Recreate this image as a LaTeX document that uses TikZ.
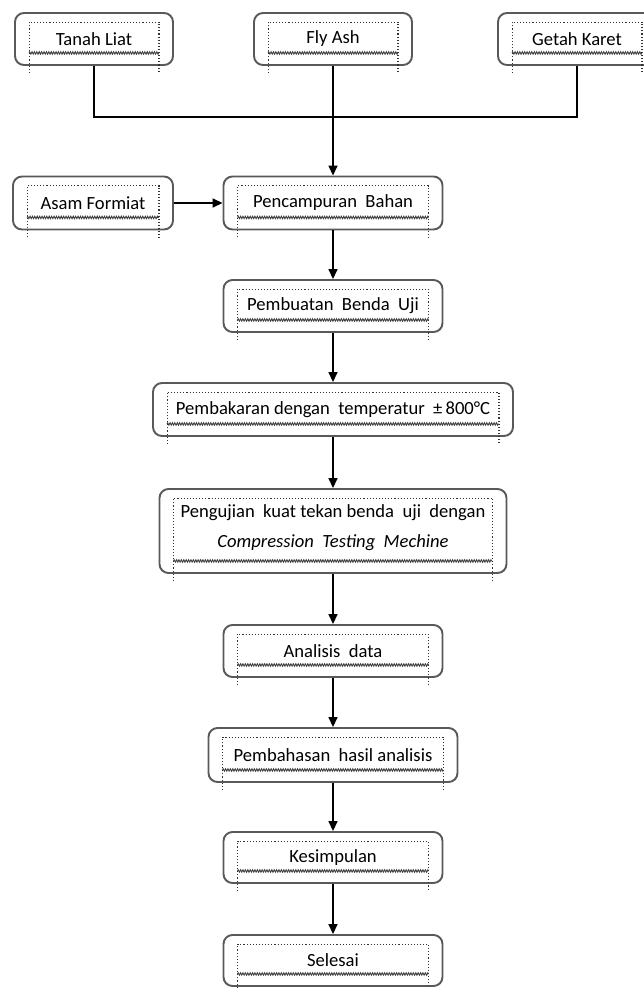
\documentclass[tikz,border=0pt]{standalone}
\usepackage{fontspec}
\setmainfont{Carlito}
\usetikzlibrary{
    arrows.meta,
    calc,
    decorations.pathmorphing
}
\tikzset{
    % --- Rounded process box ---
    stepbox/.style = {
        rectangle, draw=black!65, line width=1.9pt,
        rounded corners=9pt,
        minimum width=219pt, minimum height=52pt,
        font=\fontsize{18.6}{26}\selectfont, align=center,
        inner sep=0pt, fill=white
    },
    % --- Short box for the input materials ---
    input box/.style = {
        stepbox, minimum width=158pt
    },
    % --- Dotted text frame inside a box ---
    frame dot/.style = {
        dotted, line width=1.1pt, black!80
    },
    % --- Wavy bottom of the text frame ---
    frame wave/.style = {
        black!75, line width=0.9pt,
        decorate, decoration={zigzag, amplitude=1.2pt, segment length=2.4pt}
    },
    % --- Flow arrow ---
    flow/.style = {
        -{Triangle[length=10pt, width=9pt]}, line width=1.5pt
    },
    % --- Plain joining line ---
    join line/.style = {
        line width=1.5pt
    }
}

\begin{document}
\begin{tikzpicture}[x=1pt, y=-1pt]

\clip (0,0) rectangle (644,988);

% ---------------------------------------------------------
% Input materials
% ---------------------------------------------------------
\node[input box] (tanah) at (94, 39) {Tanah Liat};
\node[input box] (fly) at (333, 39) {Fly Ash};
\node[input box] (getah) at (577, 39) {Getah Karet};
\node[input box, minimum width=160pt, minimum height=53pt] (asam) at (93, 203) {Asam Formiat};

% ---------------------------------------------------------
% Process steps
% ---------------------------------------------------------
\node[stepbox, minimum height=53pt] (campur) at (333, 203) {Pencampuran\ \ Bahan};
\node[stepbox] (buat) at (333, 306) {Pembuatan\ \ Benda\ \ Uji};
\node[stepbox, minimum width=360pt, minimum height=53pt] (bakar) at (333, 409.5)
    {Pembakaran\ dengan\ \ temperatur\ \ ±\,800°C};
\node[stepbox, minimum width=347pt, minimum height=84pt] (uji) at (333, 531) {};
\node[font=\fontsize{18.6}{26}\selectfont, align=center] (ujitext) at ($(uji.center) + (0, -3)$)
    {Pengujian\ \ kuat tekan benda\ \ uji\ \ dengan\\[4pt]
     \textit{Compression\ \ Testing\ \ Mechine}};
\node[stepbox] (analisis) at (333, 651) {Analisis\ \ data};
\node[stepbox, minimum width=249pt, minimum height=54pt] (bahas) at (333, 755)
    {Pembahasan\ \ hasil analisis};
\node[stepbox, minimum height=51pt] (simpul) at (333, 857.5) {Kesimpulan};
\node[stepbox, minimum height=51pt] (selesai) at (333, 960.5) {Selesai};

% ---------------------------------------------------------
% Dotted text frames
% ---------------------------------------------------------
\foreach \n in {tanah, fly, getah, asam, campur, buat, bakar, uji, analisis, bahas, simpul, selesai} {
    \draw[frame dot] ($(\n.south west) + (15, 7)$) |- ($(\n.north east) + (-15, 10)$)
        -- ($(\n.south east) + (-15, 7)$);
    \draw[frame wave] ($(\n.south west) + (15, -13)$) -- ($(\n.south east) + (-15, -13)$);
}

% ---------------------------------------------------------
% Connectors
% ---------------------------------------------------------
\coordinate (merge) at (333, 117);
\draw[join line] (tanah.south) -- (tanah.south |- merge) -- (getah.south |- merge) -- (getah.south);
\draw[flow] (fly.south) -- (campur.north);
\draw[flow] (asam.east) -- (campur.west);

\draw[flow] (campur) -- (buat);
\draw[flow] (buat) -- (bakar);
\draw[flow] (bakar) -- (uji);
\draw[flow] (uji) -- (analisis);
\draw[flow] (analisis) -- (bahas);
\draw[flow] (bahas) -- (simpul);
\draw[flow] (simpul) -- (selesai);

\end{tikzpicture}
\end{document}
